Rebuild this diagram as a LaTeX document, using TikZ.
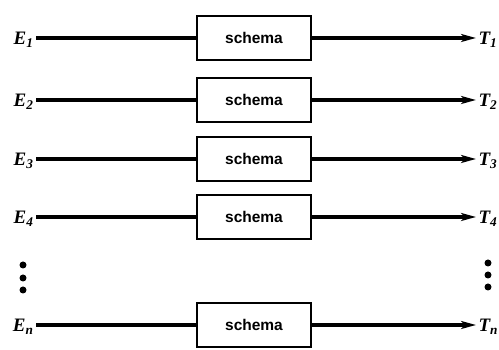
\documentclass[tikz,border=0pt]{standalone}
\usepackage{fontspec}
\setmainfont{Liberation Serif}
\setsansfont{Liberation Sans}
\usetikzlibrary{positioning, arrows.meta}

\begin{document}
\begin{tikzpicture}[x=1pt,y=1pt,>={Stealth[length=15pt,width=8pt,inset=4pt]},line width=3.2pt,
                    schema box/.style={draw,line width=1.6pt,minimum width=114pt,minimum height=44pt,font=\sffamily\bfseries\fontsize{15.5}{15.5}\selectfont},
                    in label/.style={anchor=east,inner sep=1pt,font=\bfseries\itshape\fontsize{19}{19}\selectfont},
                    out label/.style={anchor=west,inner sep=1pt,font=\bfseries\itshape\fontsize{19}{19}\selectfont},
                    dot/.style={circle,fill,inner sep=0pt,minimum size=7pt}]
        \useasboundingbox (0,0) rectangle (499,350);

        % the five channels
        \node[schema box] (s1) at (254,312) {schema};
        \node[schema box] (s2) at (254,250) {schema};
        \node[schema box] (s3) at (254,191) {schema};
        \node[schema box] (s4) at (254,133) {schema};
        \node[schema box] (sn) at (254,25) {schema};

        \node[in label] (e1) at (36,310) {E\textsubscript{1}};
        \node[in label] (e2) at (36,248) {E\textsubscript{2}};
        \node[in label] (e3) at (36,189) {E\textsubscript{3}};
        \node[in label] (e4) at (36,131) {E\textsubscript{4}};
        \node[in label] (en) at (36,23) {E\textsubscript{n}};

        \node[out label] (t1) at (476,310) {T\textsubscript{1}};
        \node[out label] (t2) at (476,248) {T\textsubscript{2}};
        \node[out label] (t3) at (476,189) {T\textsubscript{3}};
        \node[out label] (t4) at (476,131) {T\textsubscript{4}};
        \node[out label] (tn) at (476,23) {T\textsubscript{n}};

        \draw (e1.east |- s1) -- (s1); \draw[->] (s1) -- (t1.west |- s1);
        \draw (e2.east |- s2) -- (s2); \draw[->] (s2) -- (t2.west |- s2);
        \draw (e3.east |- s3) -- (s3); \draw[->] (s3) -- (t3.west |- s3);
        \draw (e4.east |- s4) -- (s4); \draw[->] (s4) -- (t4.west |- s4);
        \draw (en.east |- sn) -- (sn); \draw[->] (sn) -- (tn.west |- sn);

        % vertical dots
        \node[dot] (l1) at (23,85) {};
        \node[dot] (l2) at (23,72) {};
        \node[dot] (l3) at (23,60) {};
        \node[dot] (r1) at (488,87) {};
        \node[dot] (r2) at (488,75) {};
        \node[dot] (r3) at (488,63) {};
\end{tikzpicture}
\end{document}
